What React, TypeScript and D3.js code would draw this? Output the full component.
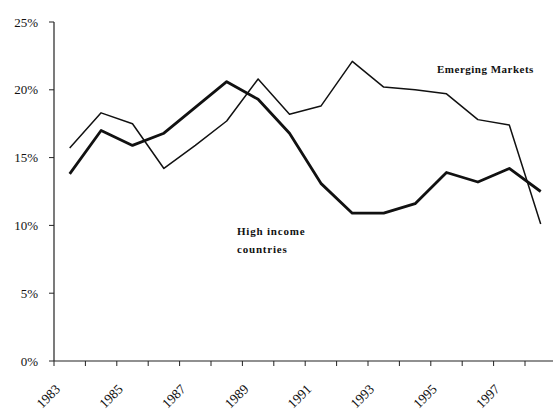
import React from "react";
import * as d3 from "d3";

const years = [1983, 1984, 1985, 1986, 1987, 1988, 1989, 1990, 1991, 1992, 1993, 1994, 1995, 1996, 1997, 1998];
const emergingMarkets = [15.7, 18.3, 17.5, 14.2, 15.9, 17.7, 20.8, 18.2, 18.8, 22.1, 20.2, 20.0, 19.7, 17.8, 17.4, 10.1];
const highIncome = [13.8, 17.0, 15.9, 16.8, 18.7, 20.6, 19.3, 16.8, 13.1, 10.9, 10.9, 11.6, 13.9, 13.2, 14.2, 12.5];
const yTicks = [0, 5, 10, 15, 20, 25];
const xLabelYears = [1983, 1985, 1987, 1989, 1991, 1993, 1995, 1997];

const FONT = "'Liberation Serif', 'Times New Roman', serif";

export default function App() {
  const x = d3.scaleBand<number>().domain(years).range([54, 556.4]).padding(0);
  const y = d3.scaleLinear().domain([0, 25]).range([361, 22]);
  const bw = x.bandwidth();
  const line = d3
    .line<number>()
    .x((_, i) => (x(years[i]) as number) + bw / 2)
    .y((d) => y(d));

  return (
    <svg
      width={553}
      height={413}
      style={{ position: "absolute", left: 0, top: 0, background: "#fff" }}
      fontFamily={FONT}
    >
      {/* y axis */}
      <line x1={54} x2={54} y1={y(25)} y2={y(0)} stroke="#222" strokeWidth={1.2} />
      {yTicks.map((t) => (
        <g key={t}>
          <line x1={49} x2={54} y1={y(t)} y2={y(t)} stroke="#222" strokeWidth={1} />
          <text x={38} y={y(t)} dy="0.35em" textAnchor="end" fontSize={13} fill="#111">
            {t}%
          </text>
        </g>
      ))}
      {/* x axis */}
      <line x1={54} x2={553} y1={y(0)} y2={y(0)} stroke="#222" strokeWidth={1.2} />
      {years.map((yr) => (
        <line
          key={yr}
          x1={x(yr) as number}
          x2={x(yr) as number}
          y1={y(0)}
          y2={y(0) + 5}
          stroke="#222"
          strokeWidth={1}
        />
      ))}
      {xLabelYears.map((yr) => (
        <text
          key={yr}
          transform={`translate(${(x(yr) as number) + 7},${y(0) + 29}) rotate(-45)`}
          textAnchor="end"
          fontSize={13.5}
          fill="#111"
        >
          {yr}
        </text>
      ))}
      {/* series */}
      <path d={line(emergingMarkets) || ""} fill="none" stroke="#111" strokeWidth={1.5} strokeLinejoin="round" />
      <path d={line(highIncome) || ""} fill="none" stroke="#111" strokeWidth={2.8} strokeLinejoin="round" />
      {/* labels */}
      <text x={437} y={73} fontSize={11} fontWeight="bold" fill="#111" letterSpacing={0.5}>
        Emerging Markets
      </text>
      <text x={237} y={235} fontSize={11} fontWeight="bold" fill="#111" letterSpacing={0.8}>
        High income
      </text>
      <text x={237} y={253} fontSize={11} fontWeight="bold" fill="#111" letterSpacing={0.8}>
        countries
      </text>
    </svg>
  );
}
